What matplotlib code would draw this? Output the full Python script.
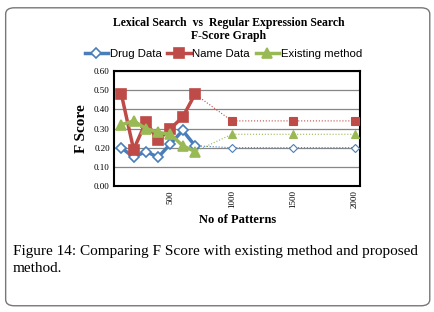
import matplotlib.pyplot as plt
from matplotlib.patches import FancyBboxPatch

patterns = [100, 200, 300, 400, 500, 600, 700, 1000, 1500, 2000]
drug_data = [0.20, 0.15, 0.18, 0.15, 0.22, 0.29, 0.21, 0.20, 0.20, 0.20]
name_data = [0.48, 0.19, 0.335, 0.24, 0.30, 0.36, 0.48, 0.34, 0.34, 0.34]
existing = [0.32, 0.34, 0.30, 0.28, 0.27, 0.21, 0.18, 0.27, 0.27, 0.27]
y_ticks = [0.0, 0.1, 0.2, 0.3, 0.4, 0.5, 0.6]
x_ticks = [500, 1000, 1500, 2000]

serif = ["Liberation Serif", "DejaVu Serif"]
narrow = ["Liberation Sans Narrow", "Liberation Sans", "DejaVu Sans"]

fig = plt.figure(figsize=(4.35, 3.12), dpi=100)
fig.patches.append(FancyBboxPatch((0.013, 0.02), 0.975, 0.955,
                                  boxstyle="round,pad=0,rounding_size=0.02",
                                  transform=fig.transFigure, fill=False,
                                  edgecolor="#777777", linewidth=1.0))

ax = fig.add_axes([0.262, 0.404, 0.566, 0.368])

series = [
    ("Drug Data", drug_data, "#4A7EBB", "D", "white", 5),
    ("Name Data", name_data, "#BE4B48", "s", "#BE4B48", 7),
    ("Existing method", existing, "#98B954", "^", "#98B954", 7),
]
handles = []
for label, vals, col, mk, mfc, ms in series:
    h, = ax.plot(patterns[:7], vals[:7], color=col, lw=2.5, marker=mk,
                 mfc=mfc, mec=col, ms=ms, mew=1.2, label=label, zorder=3)
    ax.plot(patterns[6:], vals[6:], color=col, lw=0.8, ls=":", zorder=2)
    ax.plot(patterns[7:], vals[7:], ls="none", marker=mk, mfc=mfc, mec=col,
            ms=ms - 1, mew=0.8, zorder=3)
    handles.append(h)

ax.set_xlim(40, 2045)
ax.set_ylim(0, 0.6)
ax.set_yticks(y_ticks)
ax.set_yticklabels([f"{v:.2f}" for v in y_ticks], family=serif, fontsize=6.5)
ax.set_xticks(x_ticks)
ax.set_xticklabels([str(v) for v in x_ticks], family=serif, fontsize=6.5,
                   rotation=90)
ax.tick_params(length=0, pad=3)
ax.yaxis.grid(True, color="#868686", lw=0.9)
ax.set_axisbelow(True)
for sp in ax.spines.values():
    sp.set_linewidth(1.5)
    sp.set_color("black")

ax.set_ylabel("F Score", family=serif, fontsize=11, fontweight="bold", labelpad=4)
ax.set_xlabel("No of Patterns", family=serif, fontsize=9, fontweight="bold", labelpad=4)

fig.text(0.525, 0.905, "Lexical Search  vs  Regular Expression Search\nF-Score Graph",
         ha="center", va="center", family=serif, fontsize=8.5, fontweight="bold",
         linespacing=1.05)
fig.legend(handles=handles, loc="center", bbox_to_anchor=(0.513, 0.826), ncol=3,
           frameon=False, prop={"family": narrow, "size": 8.2}, handlelength=2.1,
           handletextpad=0.1, columnspacing=0.5, borderpad=0)

cap = dict(family=serif, fontsize=11, va="center", ha="left")
fig.text(0.03, 0.195, "Figure 14: Comparing F Score with existing method and proposed", **cap)
fig.text(0.03, 0.138, "method.", **cap)

fig.savefig("out.png", dpi=100)
